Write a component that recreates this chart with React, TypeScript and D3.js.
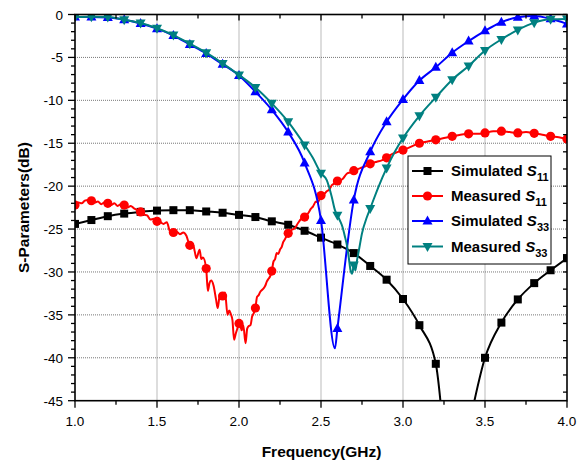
import React from "react";
import * as d3 from "d3";

// ---- data ----
const simS11Freq = [1.0,1.1,1.2,1.3,1.4,1.5,1.6,1.7,1.8,1.9,2.0,2.1,2.2,2.3,2.4,2.5,2.6,2.7,2.8,2.9,3.0,3.1,3.2,3.3,3.4,3.5,3.6,3.7,3.8,3.9,4.0];
const simS11Val = [-24.4,-23.95,-23.5,-23.2,-23.0,-22.85,-22.8,-22.8,-22.95,-23.1,-23.35,-23.6,-24.1,-24.5,-25.2,-26.0,-26.8,-27.8,-29.3,-30.9,-33.15,-36.2,-40.7,-56.0,-48.0,-40.0,-35.9,-33.2,-31.3,-29.8,-28.4];

const measS11Freq = [1.0,1.02,1.04,1.06,1.08,1.1,1.12,1.14,1.16,1.18,1.2,1.22,1.24,1.26,1.28,1.3,1.32,1.34,1.36,1.38,1.4,1.42,1.44,1.46,1.48,1.5,1.52,1.54,1.56,1.58,1.6,1.62,1.64,1.66,1.68,1.7,1.72,1.73,1.74,1.76,1.77,1.78,1.8,1.81,1.82,1.83,1.845,1.86,1.87,1.88,1.89,1.9,1.915,1.93,1.94,1.95,1.96,1.97,1.98,1.99,2.0,2.01,2.016,2.026,2.04,2.05,2.06,2.07,2.08,2.09,2.1,2.11,2.12,2.13,2.14,2.15,2.16,2.17,2.18,2.19,2.2,2.21,2.22,2.23,2.24,2.25,2.26,2.27,2.28,2.29,2.3,2.32,2.34,2.36,2.38,2.4,2.42,2.44,2.45,2.47,2.48,2.5,2.52,2.535,2.55,2.565,2.58,2.6,2.63,2.66,2.68,2.7,2.74,2.77,2.8,2.84,2.87,2.9,2.93,2.97,3.0,3.05,3.1,3.15,3.2,3.25,3.3,3.35,3.4,3.45,3.5,3.55,3.6,3.65,3.7,3.75,3.8,3.85,3.9,3.95,4.0];
const measS11Val = [-22.2,-21.9,-22.0,-21.7,-21.6,-21.7,-21.9,-21.8,-22.1,-21.9,-22.0,-22.2,-22.0,-22.3,-22.1,-22.2,-22.5,-22.3,-22.6,-22.8,-23.0,-23.3,-23.4,-23.9,-23.8,-24.1,-24.2,-24.4,-24.2,-25.3,-25.4,-25.3,-25.6,-25.4,-25.8,-26.9,-26.8,-27.6,-28.4,-27.4,-28.5,-28.3,-29.6,-32.2,-31.3,-31.0,-31.6,-33.2,-34.2,-33.0,-32.6,-32.8,-32.4,-35.0,-34.5,-34.9,-35.6,-37.9,-37.2,-36.6,-36.0,-36.4,-36.8,-36.2,-38.3,-36.6,-36.3,-36.2,-35.2,-34.8,-34.2,-32.9,-32.7,-32.3,-32.1,-31.9,-31.6,-31.1,-30.8,-30.5,-29.9,-28.8,-28.5,-27.8,-27.9,-27.4,-27.1,-26.5,-26.2,-25.8,-25.5,-25.1,-24.9,-24.3,-23.8,-23.6,-23.2,-22.6,-22.4,-21.8,-21.9,-21.1,-20.9,-20.6,-20.4,-19.9,-19.7,-19.4,-19.2,-18.5,-18.4,-18.2,-17.9,-17.7,-17.4,-17.15,-17.0,-16.7,-16.3,-16.0,-15.8,-15.4,-15.0,-14.8,-14.6,-14.4,-14.2,-14.0,-13.9,-13.9,-13.8,-13.6,-13.6,-13.7,-13.8,-13.7,-13.85,-14.0,-14.2,-14.3,-14.5];

const simS33Freq = [1.0,1.1,1.2,1.3,1.4,1.5,1.6,1.7,1.8,1.9,2.0,2.1,2.2,2.3,2.4,2.5,2.585,2.6,2.7,2.8,2.9,3.0,3.1,3.2,3.3,3.4,3.5,3.6,3.7,3.8,3.9,4.0];
const simS33Val = [-0.3,-0.3,-0.35,-0.6,-1.05,-1.65,-2.45,-3.5,-4.55,-5.8,-7.1,-9.0,-11.1,-13.7,-17.3,-24.0,-38.9,-36.6,-21.6,-16.0,-12.5,-9.9,-7.7,-6.15,-4.45,-3.1,-1.9,-0.9,-0.33,-0.17,-0.5,-1.1];

const measS33Freq = [1.0,1.1,1.2,1.3,1.4,1.5,1.6,1.7,1.8,1.9,2.0,2.1,2.2,2.3,2.4,2.45,2.5,2.535,2.565,2.585,2.6,2.615,2.63,2.645,2.66,2.67,2.68,2.69,2.7,2.71,2.72,2.73,2.75,2.78,2.8,2.85,2.9,2.95,3.0,3.1,3.2,3.3,3.4,3.5,3.6,3.7,3.8,3.9,4.0];
const measS33Val = [-0.3,-0.25,-0.3,-0.6,-1.0,-1.6,-2.4,-3.4,-4.45,-5.7,-7.05,-8.5,-10.35,-12.5,-15.2,-16.7,-18.5,-19.3,-21.2,-22.8,-23.4,-24.0,-24.7,-25.8,-27.1,-28.4,-29.8,-30.2,-29.2,-29.8,-28.6,-27.6,-25.5,-23.6,-22.6,-20.1,-17.9,-16.0,-14.4,-11.8,-9.65,-7.6,-6.0,-4.2,-2.9,-1.8,-0.95,-0.56,-0.52];

const xTicks = [1.0,1.5,2.0,2.5,3.0,3.5,4.0];
const yTicks = [0,-5,-10,-15,-20,-25,-30,-35,-40,-45];

const legendNames = ["Simulated", "Measured", "Simulated", "Measured"];
const legendSubs = ["11", "11", "33", "33"];

type Pt = [number, number];
const zip = (f: number[], v: number[]): Pt[] => f.map((x, i) => [x, v[i]]);

const series = [
  { key: "simS11", pts: zip(simS11Freq, simS11Val), color: "#000000", marker: "square" },
  { key: "measS11", pts: zip(measS11Freq, measS11Val), color: "#ff0000", marker: "circle" },
  { key: "simS33", pts: zip(simS33Freq, simS33Val), color: "#0000ff", marker: "up" },
  { key: "measS33", pts: zip(measS33Freq, measS33Val), color: "#008080", marker: "down" },
];

const W = 584, H = 463;
const L = 75, R = 567, T = 14.5, B = 400.7;
const FONT = "'Liberation Sans', Arial, sans-serif";

function Marker({ type, x, y, color }: { type: string; x: number; y: number; color: string }) {
  if (type === "square") return <rect x={x - 4} y={y - 4} width={8} height={8} fill={color} />;
  if (type === "circle") return <circle cx={x} cy={y} r={4.6} fill={color} />;
  if (type === "up") return <path d={`M${x},${y - 5.5}L${x + 5},${y + 3.5}L${x - 5},${y + 3.5}Z`} fill={color} />;
  return <path d={`M${x},${y + 5.5}L${x + 5},${y - 3.5}L${x - 5},${y - 3.5}Z`} fill={color} />;
}

export default function App() {
  const x = d3.scaleLinear().domain([1, 4]).range([L, R]);
  const y = d3.scaleLinear().domain([-45, 0]).range([B, T]);
  const line = d3.line<Pt>().x(d => x(d[0])).y(d => y(d[1])).curve(d3.curveMonotoneX);
  const isMarker = (f: number) => Math.abs(f * 10 - Math.round(f * 10)) < 1e-6;

  const minorX = d3.range(1, 4.001, 0.25);
  const minorY = d3.range(0, -45.001, -1);
  const rightY = d3.range(0, -45.001, -2);

  const lx0 = 412, lx1 = 443, ltx = 451;
  const rowsY = [171, 196, 221, 246.5];

  return (
    <svg width={W} height={H} style={{ position: "absolute", left: 0, top: 0, background: "#fff" }} fontFamily={FONT}>
      <defs>
        <clipPath id="plotclip"><rect x={L} y={T} width={R - L} height={B - T} /></clipPath>
      </defs>
      <rect x={0} y={0} width={W} height={H} fill="#fff" />
      {/* grid */}
      <g stroke="#777" strokeWidth={1} strokeDasharray="1,1">
        {xTicks.slice(1, -1).map(t => <line key={"gx" + t} x1={x(t)} x2={x(t)} y1={T} y2={B} />)}
        {yTicks.slice(1, -1).map(t => <line key={"gy" + t} x1={L} x2={R} y1={y(t)} y2={y(t)} />)}
      </g>
      {/* series */}
      <g clipPath="url(#plotclip)">
        {series.map(s => (
          <g key={s.key}>
            <path d={line(s.pts) || ""} fill="none" stroke={s.color} strokeWidth={2} />
            {s.pts.filter(p => isMarker(p[0])).map((p, i) => (
              <Marker key={i} type={s.marker} x={x(p[0])} y={y(p[1])} color={s.color} />
            ))}
          </g>
        ))}
      </g>
      {/* frame */}
      <rect x={L} y={T} width={R - L} height={B - T} fill="none" stroke="#000" strokeWidth={1.6} />
      {/* ticks */}
      <g stroke="#000" strokeWidth={1.3}>
        {minorX.map(t => {
          const major = xTicks.some(m => Math.abs(m - t) < 1e-6);
          return (
            <g key={"tx" + t}>
              <line x1={x(t)} x2={x(t)} y1={B} y2={B + (major ? 7 : 4)} />
              <line x1={x(t)} x2={x(t)} y1={T} y2={T + (major ? 6 : 4)} />
            </g>
          );
        })}
        {minorY.map(t => {
          const major = Math.abs(t % 5) < 1e-6;
          return <line key={"ty" + t} x1={L} x2={L - (major ? 7 : 4)} y1={y(t)} y2={y(t)} />;
        })}
        {rightY.map(t => <line key={"tr" + t} x1={R} x2={R - 4} y1={y(t)} y2={y(t)} />)}
      </g>
      {/* tick labels */}
      <g fontSize={13.5} fill="#000">
        {xTicks.map(t => (
          <text key={"lx" + t} x={x(t)} y={B + 25} textAnchor="middle">{t.toFixed(1)}</text>
        ))}
        {yTicks.map(t => (
          <text key={"ly" + t} x={L - 12} y={y(t) + 5} textAnchor="end">{t}</text>
        ))}
      </g>
      {/* axis titles */}
      <text x={(L + R) / 2 + 0.5} y={457} textAnchor="middle" fontSize={15.5} fontWeight="bold">Frequency(GHz)</text>
      <text transform={`translate(29,${(T + B) / 2}) rotate(-90)`} textAnchor="middle" fontSize={15.5} fontWeight="bold">S-Parameters(dB)</text>
      {/* legend */}
      <rect x={408} y={156} width={143} height={108} fill="#fff" stroke="#000" strokeWidth={1} />
      {series.map((s, i) => (
        <g key={"lg" + s.key}>
          <line x1={lx0} x2={lx1} y1={rowsY[i]} y2={rowsY[i]} stroke={s.color} strokeWidth={2} />
          <Marker type={s.marker} x={(lx0 + lx1) / 2} y={rowsY[i]} color={s.color} />
          <text x={ltx} y={rowsY[i] + 5} fontSize={15} fontWeight="bold">
            {legendNames[i]}{" "}
            <tspan fontStyle="italic">S</tspan>
            <tspan fontSize={11} dy={5}>{legendSubs[i]}</tspan>
          </text>
        </g>
      ))}
    </svg>
  );
}
